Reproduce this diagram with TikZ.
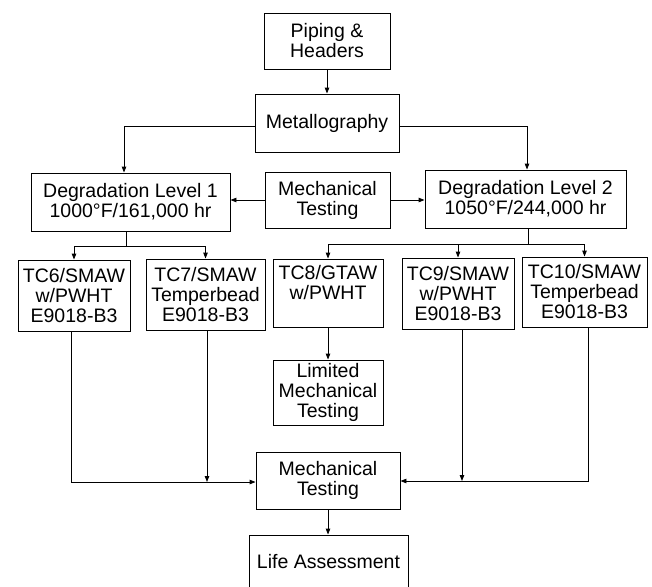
\documentclass[tikz,border=0pt]{standalone}
\usepackage{fontspec}
\setmainfont{Liberation Sans}
\usetikzlibrary{arrows.meta}
\begin{document}
\begin{tikzpicture}[x=1pt,y=-1pt,
  box/.style={draw, line width=0.9pt, inner sep=0pt, align=center,
    font=\fontsize{19.5}{20}\selectfont},
  conn/.style={line width=0.9pt},
  arr/.style={conn, -{Triangle[length=6pt,width=4.5pt]}}]
\useasboundingbox (0,0) rectangle (652,586);
\clip (0,0) rectangle (652,586);
% nodes
\node[box, minimum width=126pt, minimum height=56pt] (pip) at (327,41) {Piping \&\\Headers};
\node[box, minimum width=144pt, minimum height=58pt] (met) at (327,123) {Metallography};
\node[box, minimum width=199pt, minimum height=58pt] (dl1) at (130.5,202) {Degradation Level 1\\1000°F/161,000 hr};
\node[box, minimum width=125pt, minimum height=56pt] (mt1) at (327.5,200) {Mechanical\\Testing};
\node[box, minimum width=201pt, minimum height=58pt] (dl2) at (525.5,199) {Degradation Level 2\\1050°F/244,000 hr};
\node[box, minimum width=112pt, minimum height=71pt] (tc6) at (74,295.5) {TC6/SMAW\\w/PWHT\\E9018-B3};
\node[box, minimum width=119pt, minimum height=71pt] (tc7) at (205.5,294.5) {TC7/SMAW\\Temperbead\\E9018-B3};
\node[box, minimum width=110pt, minimum height=68pt] (tc8) at (328,293) {TC8/GTAW\\w/PWHT\\\phantom{E9018-B3}};
\node[box, minimum width=112pt, minimum height=71pt] (tc9) at (458,293.5) {TC9/SMAW\\w/PWHT\\E9018-B3};
\node[box, minimum width=125pt, minimum height=70pt] (tc10) at (584.5,292) {TC10/SMAW\\Temperbead\\E9018-B3};
\node[box, minimum width=110pt, minimum height=65pt] (lim) at (328,392.5) {Limited\\Mechanical\\Testing};
\node[box, minimum width=144pt, minimum height=57pt] (mt2) at (328,480.5) {Mechanical\\Testing};
\node[box, minimum width=159pt, minimum height=54pt] (life) at (328.5,562) {Life Assessment};
% connectors
\draw[arr] (pip) -- (met);
\coordinate (mw) at ([yshift=-3pt]met.west);
\coordinate (me) at ([yshift=-3pt]met.east);
\coordinate (d1n) at ([xshift=-6.5pt]dl1.north);
\coordinate (d2n) at ([xshift=1.5pt]dl2.north);
\draw[arr] (mw) -| (d1n);
\draw[arr] (me) -| (d2n);
\draw[arr] (mt1.west) -- (mt1.west -| dl1.east);
\draw[arr] (mt1.east) -- (mt1.east -| dl2.west);
% bus 1
\draw[conn] ([xshift=-4.5pt]dl1.south) -- ++(0,15) coordinate (b1);
\draw[arr] (b1) -| (tc6.north);
\draw[arr] (b1) -| (tc7.north);
% bus 2
\draw[conn] ([xshift=2.5pt]dl2.south) -- ++(0,16) coordinate (b2);
\draw[arr] (b2) -| (tc8.north);
\draw[arr] (b2) -| (tc9.north);
\draw[arr] (b2) -| (tc10.north);
\draw[arr] (tc8) -- (lim);
% bottom collection
\coordinate (m2l) at ([yshift=-1.5pt]mt2.west);
\coordinate (m2r) at ([yshift=-0.5pt]mt2.east);
\coordinate (t6) at ([xshift=-3pt]tc6.south);
\coordinate (t7) at ([xshift=1.5pt]tc7.south);
\coordinate (t9) at ([xshift=4pt]tc9.south);
\coordinate (t10) at ([xshift=3.5pt]tc10.south);
\draw[arr] (t6) |- (m2l);
\draw[arr] (t7) -- (t7 |- m2l);
\draw[arr] (t10) |- (m2r);
\draw[arr] (t9) -- (t9 |- m2r);
\draw[arr] (mt2.south) -- (mt2.south |- life.north);
\end{tikzpicture}
\end{document}
